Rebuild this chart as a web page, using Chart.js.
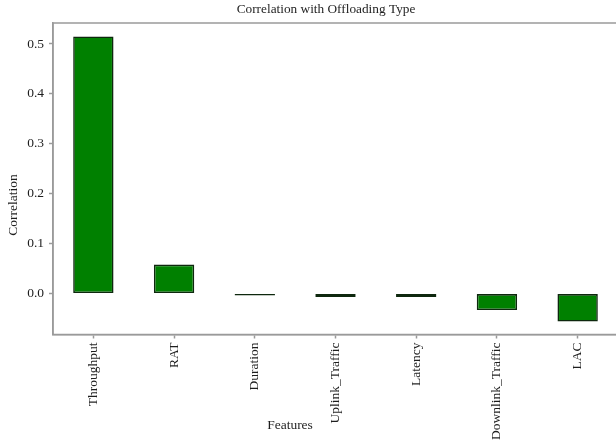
<!DOCTYPE html>
<html>
<head>
<meta charset="utf-8">
<script src="https://cdn.jsdelivr.net/npm/chart.js@4/dist/chart.umd.min.js"></script>
<style>
  html, body { margin: 0; padding: 0; background: #fff; overflow: hidden; }
  #wrap { width: 622px; height: 442px; }
</style>
</head>
<body>
<div id="wrap"><canvas id="chart" width="622" height="442"></canvas></div>
<script>
// Correlation of each feature with the offloading type
const features = ['Throughput', 'RAT', 'Duration', 'Uplink_Traffic', 'Latency', 'Downlink_Traffic', 'LAC'];
const correlation = [0.515, 0.058, -0.004, -0.007, -0.007, -0.033, -0.056];
const yTickValues = [0.0, 0.1, 0.2, 0.3, 0.4, 0.5];

const chartTitle = 'Correlation with Offloading Type';
const xTitle = 'Features';
const yTitle = 'Correlation';

const FONT = '"Liberation Serif", "Times New Roman", serif';
const TEXT = '#1e1e1e';
const AXIS = '#9a9a9a';

// Frame around the plot plus the title and axis labels
const decorations = {
  id: 'decorations',
  afterDraw(chart) {
    const { ctx, chartArea: a } = chart;
    ctx.save();
    ctx.strokeStyle = AXIS;
    ctx.lineWidth = 1.5;
    ctx.strokeRect(a.left, a.top, a.right - a.left, a.bottom - a.top);

    ctx.fillStyle = TEXT;
    ctx.font = '13.3px ' + FONT;
    ctx.textAlign = 'center';
    ctx.textBaseline = 'middle';
    ctx.fillText(chartTitle, 326, 10);

    ctx.font = '13.5px ' + FONT;
    ctx.fillText(xTitle, 290, 425);

    ctx.translate(13, 205);
    ctx.rotate(-Math.PI / 2);
    ctx.fillText(yTitle, 0, 0);
    ctx.restore();
  }
};

new Chart(document.getElementById('chart'), {
  type: 'bar',
  data: {
    labels: features,
    datasets: [{
      data: correlation,
      backgroundColor: '#008000',
      borderColor: '#0e280e',
      borderWidth: 1.6,
      borderSkipped: false,
      barPercentage: 0.5,
      categoryPercentage: 1.0
    }]
  },
  options: {
    responsive: false,
    animation: false,
    devicePixelRatio: 1,
    layout: { padding: { top: 23, right: 4, left: 0, bottom: 0 } },
    plugins: {
      legend: { display: false },
      title: { display: false },
      tooltip: { enabled: false }
    },
    scales: {
      x: {
        grid: { display: true, drawOnChartArea: false, offset: false, tickLength: 4, tickColor: AXIS, tickWidth: 1.5 },
        border: { display: true, color: AXIS, width: 1.5 },
        ticks: {
          color: TEXT,
          font: { family: FONT, size: 13.5 },
          maxRotation: 90,
          minRotation: 90,
          padding: 4,
          autoSkip: false
        },
        afterFit(scale) { scale.height = 107.5; }
      },
      y: {
        min: -0.082,
        max: 0.542,
        grid: { display: true, drawOnChartArea: false, tickLength: 4, tickColor: AXIS, tickWidth: 1.5 },
        border: { display: true, color: AXIS, width: 1.5 },
        afterBuildTicks(scale) {
          scale.ticks = yTickValues.map(v => ({ value: v }));
        },
        ticks: {
          color: TEXT,
          font: { family: FONT, size: 13.5 },
          padding: 5,
          callback: v => Number(v).toFixed(1)
        },
        afterFit(scale) { scale.width = 53; }
      }
    }
  },
  plugins: [decorations]
});
</script>
</body>
</html>
